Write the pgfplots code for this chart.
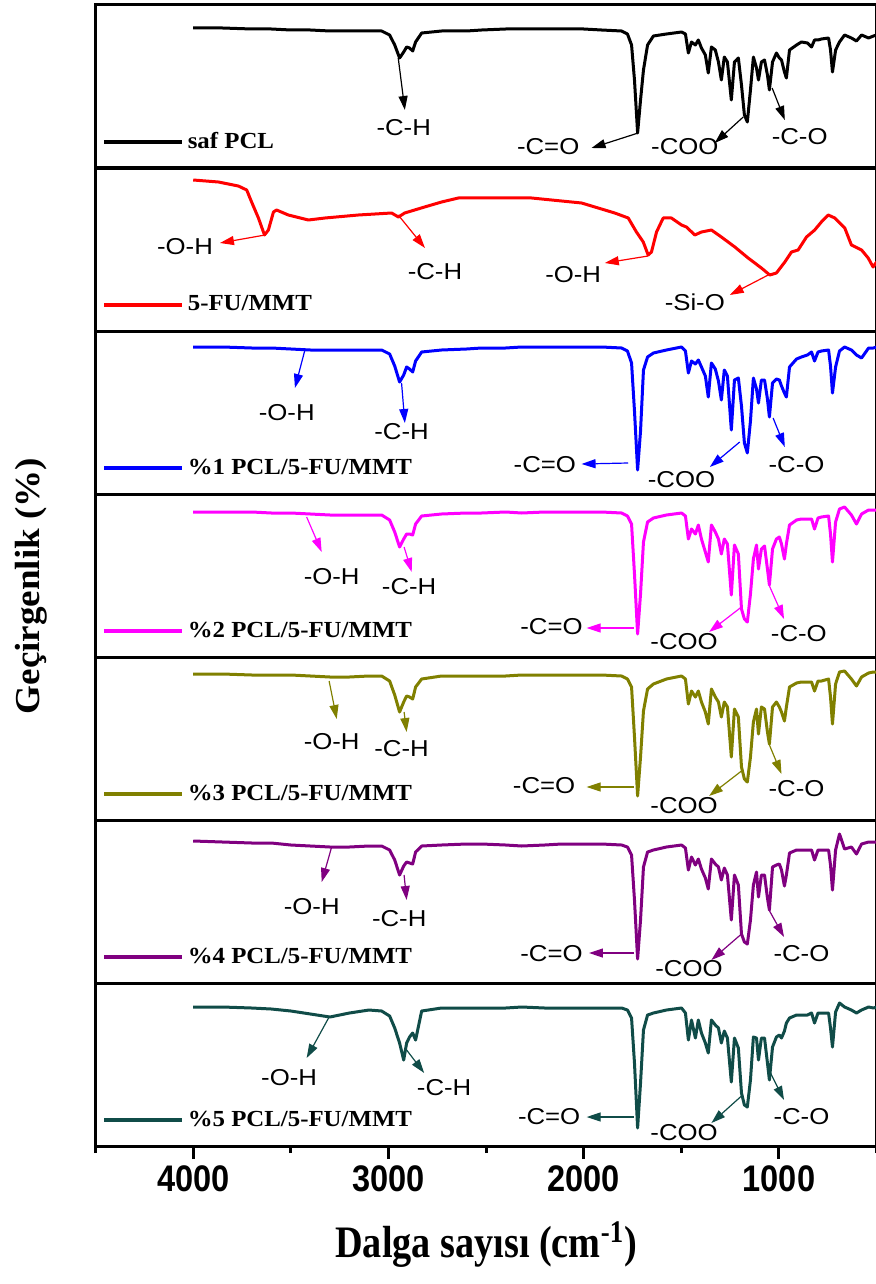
\documentclass[border=0pt]{standalone}
\usepackage{fontspec}
\usepackage{pgfplots}
\pgfplotsset{compat=1.18}
\usepackage{pgfplotstable}
\usetikzlibrary{arrows.meta}
\setmainfont{Liberation Serif}
\newfontfamily\annfont[FakeStretch=1.12]{Liberation Sans}
\newfontfamily\legfont[FakeStretch=1.08]{Liberation Serif}
\newfontfamily\tickfont[FakeStretch=0.88]{Liberation Sans}
\newfontfamily\xlabfont[FakeStretch=0.85]{Liberation Serif}
\newfontfamily\ylabfont[FakeStretch=1.06]{Liberation Serif}

\definecolor{cred}{RGB}{255,0,0}
\definecolor{cblue}{RGB}{0,0,255}
\definecolor{cmag}{RGB}{255,0,255}
\definecolor{colive}{RGB}{128,128,0}
\definecolor{cpurp}{RGB}{128,0,128}
\definecolor{cteal}{RGB}{16,76,72}

% PCL-type spectra (relative transmittance, panel units 0..163)
\pgfplotstableread{
x p1 p3 p4 p5 p6 p7
4000 140 147 145 146 142 139
3850 140 147 145 146 141 139
3700 139 146 145 145 140 138
3600 139 146 144 145 140 137
3500 138 145 144 145 138 135
3400 138 144 143 144 137 132
3300 137 144 142 143 136 129
3200 137 144 142 143 136 133
3100 137 144 142 144 137 136
3035 137 144 142 144 137 135
2994 133 140 137 139 133 130
2968 123 128 125 125 123 118
2943 110 112 110 108 108 103
2922 116 119 118 118 117 86
2907 121 127 123 124 121 103
2892 120 125 123 123 120 109
2876 117 122 122 121 119 113
2861 126 133 133 133 131 106
2830 135 142 141 141 137 135
2728 137 144 143 144 138 138
2600 137 145 144 144 139 138
2523 138 146 144 144 139 138
2400 139 146 145 144 138 138
2318 139 147 144 145 137 139
2200 139 147 145 145 138 138
2113 139 147 145 145 139 138
2000 139 147 145 145 139 138
1909 138 147 145 145 139 138
1806 137 146 144 144 138 138
1776 134 143 141 141 136 136
1755 123 131 133 133 128 128
1740 88 83 83 83 83 83
1724 35 24 23 24 24 18
1709 68 63 63 63 63 63
1694 98 124 115 109 116 116
1673 123 137 135 131 131 131
1643 132 141 139 136 133 133
1576 134 144 142 141 136 136
1499 136 147 144 144 138 138
1479 134 143 141 141 135 133
1464 115 121 118 116 113 106
1448 126 133 128 129 126 126
1428 123 130 123 123 118 108
1413 128 134 132 129 124 126
1397 120 127 118 118 114 113
1377 113 118 105 108 105 103
1362 95 97 95 96 94 93
1346 121 131 132 131 124 126
1326 118 125 125 123 119 121
1310 106 113 118 118 116 118
1295 88 94 103 103 103 103
1280 111 124 118 118 115 115
1264 106 118 113 113 108 108
1244 68 64 62 63 63 64
1228 106 114 112 111 108 108
1208 110 116 103 103 98 98
1192 83 88 48 53 49 53
1177 53 51 38 41 41 41
1162 46 41 35 38 39 39
1146 78 73 63 63 63 66
1131 111 116 98 98 98 109
1115 100 105 112 111 111 108
1105 88 91 88 86 86 86
1090 106 114 108 113 108 108
1074 108 114 111 111 108 108
1059 93 95 88 88 85 83
1049 78 77 72 76 73 66
1033 106 111 108 113 116 99
1013 115 115 118 118 118 109
998 110 114 120 113 119 111
987 108 108 113 108 113 108
972 96 101 98 99 97 115
962 90 97 113 113 108 123
946 118 127 132 133 130 128
910 123 135 137 137 133 131
885 126 137 138 138 133 131
854 125 139 138 138 133 131
833 121 142 138 138 133 133
818 128 133 128 129 123 123
800 128 142 139 139 133 133
782 129 143 140 139 133 133
746 130 144 141 141 133 133
736 118 128 123 123 118 118
726 96 101 95 96 93 99
710 118 127 135 136 133 134
690 126 143 148 148 149 143
664 133 147 150 149 134 139
629 130 144 142 141 136 136
603 127 139 133 134 129 133
577 133 136 143 143 139 136
541 130 146 147 147 141 139
516 132 146 147 148 141 138
500 133 147 147 148 141 139
}\pcl

% 5-FU/MMT spectrum
\pgfplotstableread{
x y
4000 151
3871 149
3769 145
3726 141
3701 129
3666 113
3635 96
3615 101
3589 119
3573 121
3513 116
3410 111
3325 113
3154 116
2984 118
2949 114
2917 118
2866 121
2815 124
2728 129
2642 133
2472 133
2267 133
2011 128
1841 118
1772 113
1730 99
1695 89
1670 76
1653 79
1627 99
1593 113
1551 113
1499 106
1474 104
1431 96
1397 99
1346 101
1295 94
1226 84
1158 73
1090 63
1047 56
1013 58
970 69
936 79
902 81
859 94
817 101
783 109
748 116
714 113
663 103
629 86
577 81
543 73
518 64
500 69
}\fumt

\newcommand\ann[8]{%
  \draw[#1, line width=0.6pt, -{Triangle[length=7pt,width=4.5pt]}] (axis cs:#2,#3) -- (axis cs:#4,#5);
  \node[font=\annfont\fontsize{11.5pt}{13pt}\selectfont, inner sep=0pt, text=black] at (axis cs:#6,#7) {#8};}

\pgfplotsset{
  panel/.style={
    scale only axis, width=390.5pt, height=81.5pt,
    xmin=500, xmax=4500, x dir=reverse, ymin=0, ymax=163,
    xtick=\empty, ytick=\empty,
    axis line style={line width=1.5pt},
    clip mode=individual,
    anchor=north west,
    legend style={at={(axis description cs:0.008,0.16)}, anchor=west, draw=none, fill=none,
      inner sep=0pt, font=\legfont\bfseries\fontsize{11.5pt}{13pt}\selectfont},
    legend cell align=left,
    legend image code/.code={\draw[##1, line width=1.8pt] (0pt,0pt) -- (39pt,0pt);},
    every axis plot/.append style={line width=1.5pt, line join=round},
  }
}

\begin{document}
\begin{tikzpicture}
\begin{axis}[panel, at={(0pt,0pt)}]
\addplot[black] table[x=x,y=p1] {\pcl};
\addlegendentry{saf PCL}
\ann{black}{2950}{110}{2916}{58}{2922}{40}{-C-H}
\ann{black}{1721}{35}{1960}{20}{2182}{21}{-C=O}
\ann{black}{1183}{51}{1329}{25}{1482}{21}{-COO}
\ann{black}{1035}{80}{970}{48}{894}{31}{-C-O}
\end{axis}

\begin{axis}[panel, at={(0pt,-81.5pt)}]
\addplot[cred] table[x=x,y=y] {\fumt};
\addlegendentry{5-FU/MMT}
\ann{cred}{3632}{96}{3863}{88}{4042}{84}{-O-H}
\ann{cred}{2950}{116}{2813}{83}{2762}{59}{-C-H}
\ann{cred}{1670}{75}{1892}{68}{2054}{56}{-O-H}
\ann{cred}{1055}{56}{1252}{36}{1431}{29}{-Si-O}
\end{axis}

\begin{axis}[panel, at={(0pt,-163pt)}]
\addplot[cblue] table[x=x,y=p3] {\pcl};
\addlegendentry{\%1 PCL/5-FU/MMT}
\ann{cblue}{3428}{144}{3479}{106}{3521}{81}{-O-H}
\ann{cblue}{2933}{111}{2916}{71}{2933}{62}{-C-H}
\ann{cblue}{1772}{31}{2011}{30}{2199}{29}{-C=O}
\ann{cblue}{1201}{52}{1354}{27}{1499}{14}{-COO}
\ann{cblue}{1030}{76}{970}{47}{910}{29}{-C-O}
\end{axis}

\begin{axis}[panel, at={(0pt,-244.5pt)}]
\addplot[cmag] table[x=x,y=p4] {\pcl};
\addlegendentry{\%2 PCL/5-FU/MMT}
\ann{cmag}{3419}{140}{3342}{105}{3291}{80}{-O-H}
\ann{cmag}{2920}{110}{2881}{85}{2894}{70}{-C-H}
\ann{cmag}{1742}{29}{1985}{29}{2165}{30}{-C=O}
\ann{cmag}{1192}{50}{1358}{25}{1486}{15}{-COO}
\ann{cmag}{1051}{72}{974}{38}{898}{23}{-C-O}
\end{axis}

\begin{axis}[panel, at={(0pt,-326pt)}]
\addplot[colive] table[x=x,y=p5] {\pcl};
\addlegendentry{\%3 PCL/5-FU/MMT}
\ann{colive}{3304}{139}{3265}{101}{3291}{78}{-O-H}
\ann{colive}{2920}{108}{2907}{88}{2933}{71}{-C-H}
\ann{colive}{1742}{33}{1985}{33}{2203}{34}{-C=O}
\ann{colive}{1192}{49}{1358}{24}{1486}{14}{-COO}
\ann{colive}{1051}{76}{987}{46}{910}{31}{-C-O}
\end{axis}

\begin{axis}[panel, at={(0pt,-407.5pt)}]
\addplot[cpurp] table[x=x,y=p6] {\pcl};
\addlegendentry{\%4 PCL/5-FU/MMT}
\ann{cpurp}{3291}{136}{3342}{101}{3393}{76}{-O-H}
\ann{cpurp}{2920}{108}{2907}{83}{2945}{64}{-C-H}
\ann{cpurp}{1742}{30}{1973}{30}{2165}{29}{-C=O}
\ann{cpurp}{1192}{49}{1346}{23}{1461}{14}{-COO}
\ann{cpurp}{1051}{73}{974}{46}{885}{29}{-C-O}
\end{axis}

\begin{axis}[panel, at={(0pt,-489pt)},
  xtick={1000,2000,3000,4000}, minor xtick={500,1500,2500,3500,4500},
  tick align=outside, xtick pos=left,
  major tick length=6.5pt, minor tick length=3.5pt,
  tick style={line width=1.5pt, black},
  /pgf/number format/assume math mode=true,
  /pgf/number format/1000 sep={},
  scaled x ticks=false,
  xticklabel style={font=\tickfont\bfseries\fontsize{18.5pt}{20pt}\selectfont},
  xlabel={Dalga sayısı (cm\textsuperscript{-1})},
  xlabel style={font=\xlabfont\bfseries\fontsize{22.5pt}{25pt}\selectfont,
    at={(axis description cs:0.5,0)}, anchor=center, yshift=-49.5pt},
]
\addplot[cteal] table[x=x,y=p7] {\pcl};
\addlegendentry{\%5 PCL/5-FU/MMT}
\ann{cteal}{3304}{129}{3419}{88}{3509}{68}{-O-H}
\ann{cteal}{2907}{96}{2817}{73}{2715}{58}{-C-H}
\ann{cteal}{1742}{29}{1985}{29}{2177}{29}{-C=O}
\ann{cteal}{1192}{50}{1346}{23}{1486}{13}{-COO}
\ann{cteal}{1051}{76}{974}{46}{885}{29}{-C-O}
\end{axis}

\node[rotate=90, font=\ylabfont\bfseries\fontsize{17.5pt}{20pt}\selectfont] at (-32pt,-290.5pt) {Geçirgenlik (\%)};

\pgfresetboundingbox
\path[use as bounding box] (-47.8pt,2.5pt) rectangle (389.7pt,-639.5pt);
\end{tikzpicture}
\end{document}
